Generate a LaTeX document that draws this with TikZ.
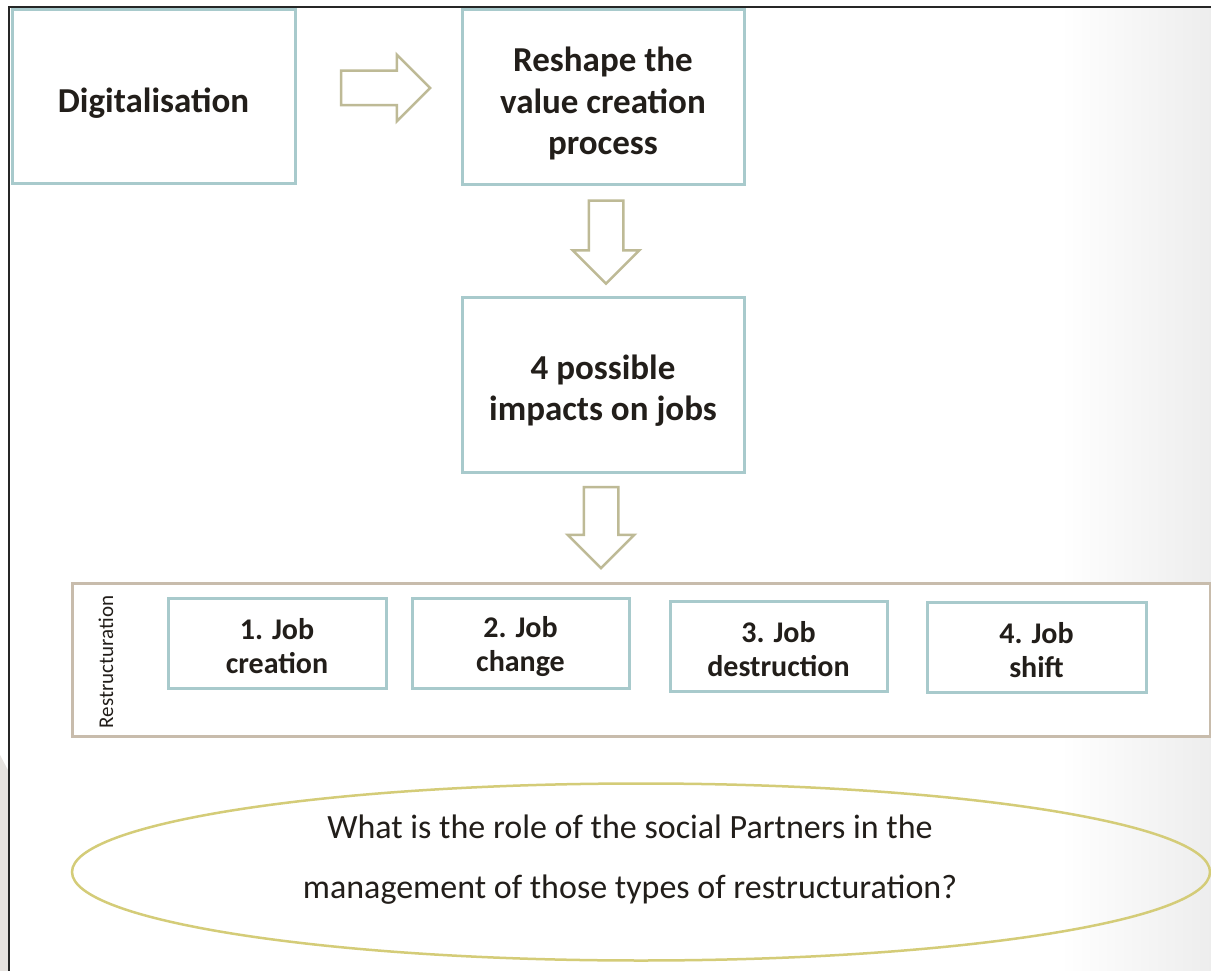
\documentclass[tikz,border=0pt]{standalone}
\usepackage{fontspec}
\setmainfont{Carlito}
\usetikzlibrary{shapes.arrows,shapes.geometric,calc}
\definecolor{boxc}{RGB}{168,202,204}
\definecolor{arrc}{RGB}{190,186,150}
\definecolor{outc}{RGB}{200,188,172}
\definecolor{ellc}{RGB}{212,204,120}
\definecolor{txt}{RGB}{34,30,26}
\definecolor{sideg}{RGB}{230,227,224}
\begin{document}
\begin{tikzpicture}[x=1pt,y=-1pt,
  boxframe/.style={draw=boxc, line width=3pt, fill=white, inner sep=0pt},
  bigtext/.style={text=txt, align=center, inner sep=0pt,
    font=\fontsize{35}{41.5}\selectfont\bfseries, yshift=-6pt},
  jobtext/.style={text=txt, align=center, inner sep=0pt,
    font=\fontsize{30}{34}\selectfont\bfseries, yshift=-3pt},
  bigbox/.style={boxframe, minimum width=282, minimum height=175,
    label={[bigtext]center:{#1}}},
  jobbox/.style={boxframe, minimum width=218, minimum height=90,
    label={[jobtext]center:{#1}}},
  blockarrow/.style={single arrow, draw=arrc, line width=2.5pt, fill=white,
    minimum height=#1, minimum width=64, single arrow head extend=16,
    single arrow tip angle=90, single arrow head indent=0pt,
    inner xsep=0pt, inner ysep=16pt},
  downarrow/.style={blockarrow=#1, shape border rotate=270,
    inner xsep=16pt, inner ysep=0pt},
  outerbox/.style={draw=outc, line width=3pt, fill=white, inner sep=0pt},
  ellbox/.style={ellipse, draw=ellc, line width=2.5pt, inner sep=0pt},
  plain/.style={text=txt, inner sep=0pt, align=center}]
\useasboundingbox (0,0) rectangle (1211,971);
% background
\fill[white] (0,0) rectangle (1211,971);
\shade[left color=white, right color=black!7] (1060,7) rectangle (1211,971);
\fill[sideg] (0,755) -- (9,772) -- (9,971) -- (0,971) -- cycle;
\draw[line width=2pt, black!85] (9,971) -- (9,7) -- (1211,7);

% main boxes
\node[bigbox={Digitalisation}, minimum width=283, minimum height=174] (dig) at (153.5,97) {};
\node[bigbox={Reshape the\\value creation\\process}] (reshape) at (603,97.5) {};
\node[bigbox={4 possible\\impacts on jobs}] (impacts) at (603,384.5) {};

% block arrows
\node[blockarrow=89] (a1) at (377,88) {};
\node[downarrow=83] (a2) at (606,233.5) {};
\node[downarrow=81] (a3) at (601,519) {};

% restructuration group
\node[outerbox, minimum width=1138, minimum height=153] (outer) at (641,659.5) {};
\node[plain, rotate=90, font=\fontsize{21}{24}\selectfont] (rlab) at (106,662) {Restructuration};
\node[jobbox={1. Job\\creation}] (j1) at (277,643) {};
\node[jobbox={2. Job\\change}, minimum width=217] (j2) at (520.5,643.5) {};
\node[jobbox={3. Job\\destruction}, minimum width=217] (j3) at (778.5,646.5) {};
\node[jobbox={4. Job\\shift}, minimum width=219] (j4) at (1036.5,647) {};

% question ellipse
\node[ellbox, minimum width=1138, minimum height=177] (q) at (641,872) {};
\node[plain, font=\fontsize{34}{60}\selectfont] (qt) at (630,860)
  {What is the role of the social Partners in the\\management of those types of restructuration?};
\end{tikzpicture}
\end{document}
